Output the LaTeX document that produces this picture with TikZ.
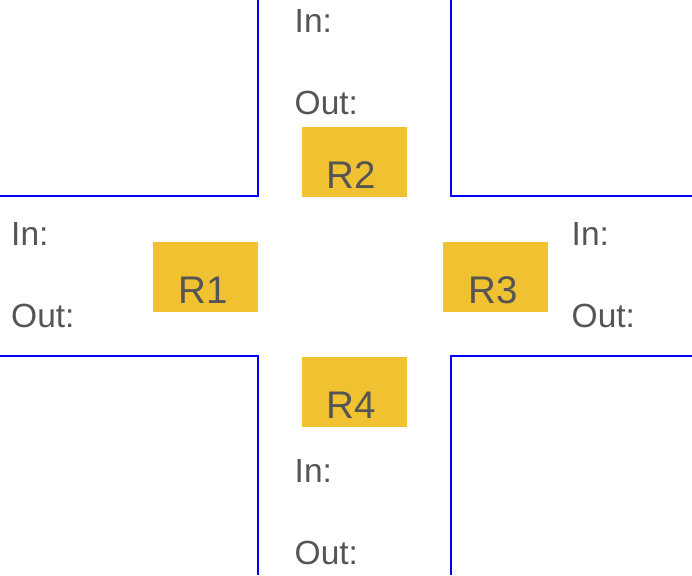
\documentclass[tikz,border=0pt]{standalone}
\usepackage{fontspec}
\setmainfont{Liberation Sans}
\definecolor{wall}{HTML}{0000FF}
\definecolor{boxfill}{HTML}{F0C232}
\definecolor{txt}{HTML}{555555}
\tikzset{
  x=1pt, y=-1pt,
  wallline/.style={draw=wall, line width=2.2pt},
  rbox/.style={fill=boxfill, draw=none, inner sep=0pt, minimum width=105pt, minimum height=70pt, anchor=north west},
  rlabel/.style={text=txt, font=\fontsize{38.5}{38.5}\selectfont, anchor=base, inner sep=0pt},
  iolabel/.style={text=txt, font=\fontsize{33.5}{33.5}\selectfont, anchor=base west, inner sep=0pt}
}
\begin{document}
\begin{tikzpicture}
\useasboundingbox (0,0) rectangle (692,575);
% walls
\draw[wallline] (0,196) -- (258,196) -- (258,0);
\draw[wallline] (451,0) -- (451,196) -- (692,196);
\draw[wallline] (0,356) -- (258,356) -- (258,575);
\draw[wallline] (451,575) -- (451,356) -- (692,356);
% boxes
\node[rbox] (b2) at (302,127) {};
\node[rbox] (b1) at (153,242) {};
\node[rbox] (b3) at (443,242) {};
\node[rbox] (b4) at (302,357) {};
\node[rlabel] (r2) at (351,188) {R2};
\node[rlabel] (r1) at (203,303) {R1};
\node[rlabel] (r3) at (493,303) {R3};
\node[rlabel] (r4) at (351,418) {R4};
% in/out
\node[iolabel] (in2) at (294.5,33) {In:};
\node[iolabel] (out2) at (294.5,114) {Out:};
\node[iolabel] (in1) at (11,245) {In:};
\node[iolabel] (out1) at (11,327) {Out:};
\node[iolabel] (in3) at (571.5,245) {In:};
\node[iolabel] (out3) at (571.5,327) {Out:};
\node[iolabel] (in4) at (294.5,482) {In:};
\node[iolabel] (out4) at (294.5,564) {Out:};
\end{tikzpicture}
\end{document}
